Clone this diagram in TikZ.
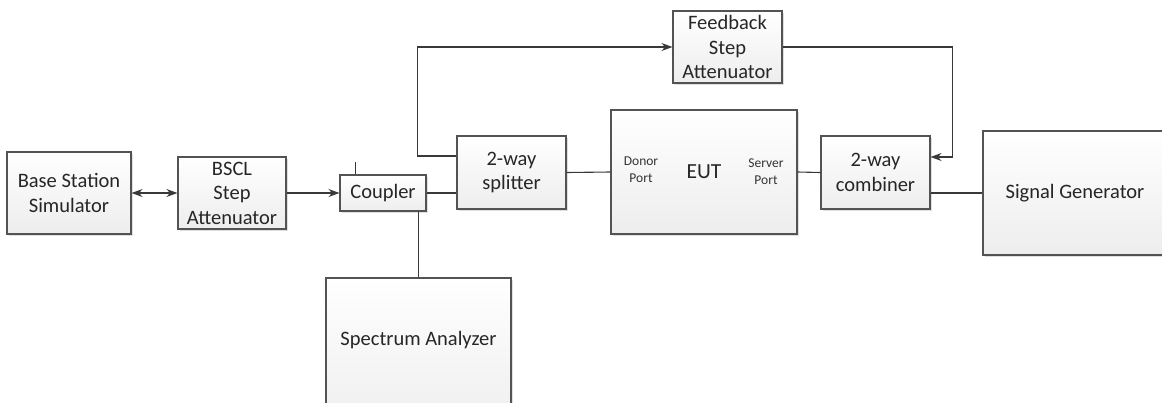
\documentclass[tikz,border=0pt]{standalone}
\usepackage{fontspec}
\setmainfont{Carlito}
\usetikzlibrary{arrows.meta,shadows,calc}
\begin{document}
\begin{tikzpicture}[x=1pt,y=-1pt,
  blk/.style={draw=gray!65!black, line width=1.1pt, top color=white, bottom color=gray!14,
    drop shadow={opacity=0.25, shadow xshift=1.5pt, shadow yshift=-1.5pt},
    inner sep=0pt, align=center, font=\fontsize{20.5}{24.5}\selectfont, text=black!85},
  wire/.style={draw=gray!45!black, line width=1.1pt},
  arr/.style={wire, -{Stealth[length=11pt,width=8pt]}},
  small/.style={inner sep=0pt, align=center, font=\fontsize{13.5}{17}\selectfont, text=black!80}]
\useasboundingbox (0,0) rectangle (1162,402);
\clip (0,0) rectangle (1162,402);
% blocks
\node[blk, minimum width=124pt, minimum height=82pt] (bss) at (69,193) {Base Station\\Simulator};
\node[blk, minimum width=108pt, minimum height=72pt] (bscl) at (232,193) {BSCL\\Step\\Attenuator};
\node[blk, minimum width=86pt, minimum height=36pt] (coupler) at (383,193) {Coupler};
\node[blk, minimum width=185pt, minimum height=162pt,
  label={[font=\fontsize{20.5}{24.5}\selectfont, text=black!85, yshift=19pt]center:Spectrum Analyzer}] (sa) at (418.5,359) {};
\node[blk, minimum width=109pt, minimum height=73pt] (split) at (511.5,172.5) {2-way\\splitter};
\node[blk, minimum width=109pt, minimum height=72pt] (fb) at (727.5,47) {Feedback\\Step\\Attenuator};
\node[blk, minimum width=186pt, minimum height=124pt] (eut) at (704,172) {};
\node[small] (donor) at (641,170) {Donor\\Port};
\node[inner sep=0pt, font=\fontsize{21.5}{24}\selectfont, text=black!85] (euttxt) at (704,172) {EUT};
\node[small] (server) at (766,172) {Server\\Port};
\node[blk, minimum width=109pt, minimum height=73pt] (comb) at (875.5,172.5) {2-way\\combiner};
\node[blk, minimum width=184pt, minimum height=124pt] (sg) at (1075,193) {Signal Generator};
% connectors
\draw[wire, {Stealth[length=11pt,width=8pt]}-{Stealth[length=11pt,width=8pt]}] (bss.east) -- (bscl.west);
\draw[arr] (bscl.east) -- (coupler.west);
\draw[wire] ([xshift=16pt]coupler.north west) -- ++(0,12pt);
\draw[wire] ([xshift=-8pt]coupler.south east) -- ([xshift=-8pt]coupler.south east |- sa.north);
\draw[wire] (coupler.east) -- (coupler.east -| split.west);
\draw[arr] ([yshift=16.5pt]split.west) -- ++(-39pt,0) |- (fb.west);
\draw[wire] (split.east) -- (eut.west);
\draw[wire] (eut.east) -- (comb.west);
\draw[arr] (fb.east) -- ++(170pt,0) |- ([yshift=15.5pt]comb.east);
\draw[wire] (comb.east |- sg.west) -- (sg.west);
\end{tikzpicture}
\end{document}
